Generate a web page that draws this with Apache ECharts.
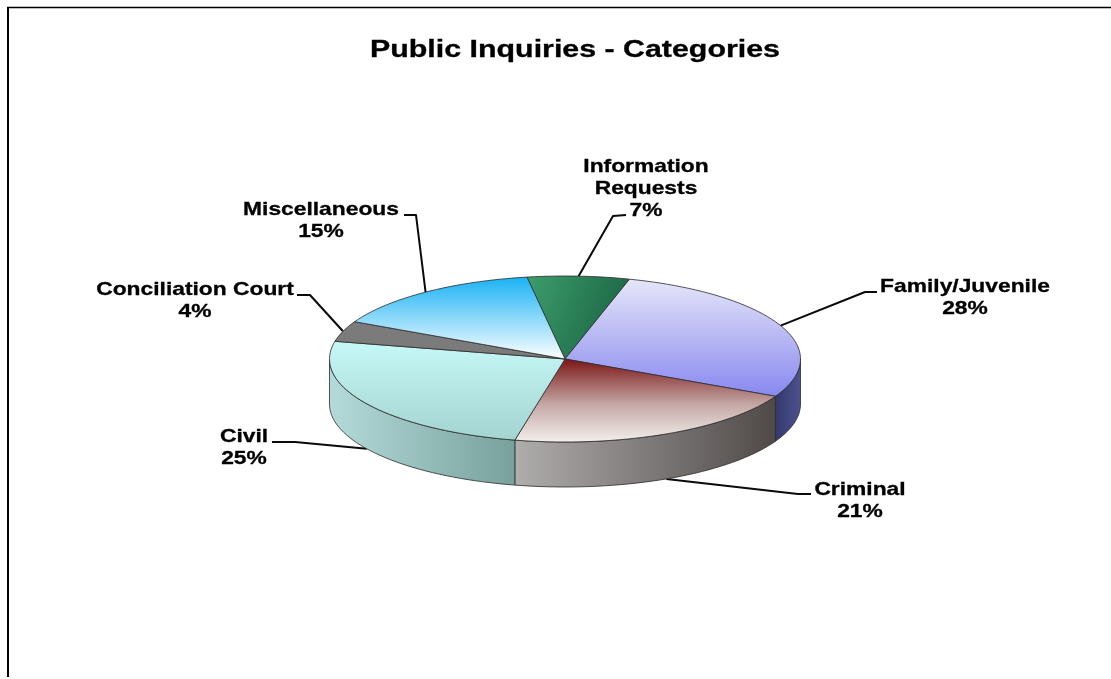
<!DOCTYPE html>
<html>
<head>
<meta charset="utf-8">
<style>html,body{margin:0;padding:0;background:#fff}#chart{width:1111px;height:679px}</style>
<script src="https://cdn.jsdelivr.net/npm/echarts@6/dist/echarts.min.js"></script>
</head>
<body>
<div id="chart"></div>
<script>
// Slices run clockwise from the top of the disc.
const chartTitle = 'Public Inquiries - Categories';
const categories = ['Information\nRequests', 'Family/Juvenile', 'Criminal', 'Civil', 'Conciliation Court', 'Miscellaneous'];
const shares = [7, 28, 21, 25, 4, 15];

// Disc geometry: tilted pie projected onto an ellipse, with a visible rim.
const disc = { cx: 565, cy: 359, rx: 235.5, ry: 83, depth: 45, startDeg: -9.3 };

const FONT = '"Liberation Sans", Arial, sans-serif';

const v = (top, bottom) => ({ type: 'linear', x: 0, y: 0, x2: 0, y2: 1,
  colorStops: [{ offset: 0, color: top }, { offset: 1, color: bottom }] });
const h = (left, right) => ({ type: 'linear', x: 0, y: 0, x2: 1, y2: 0,
  colorStops: [{ offset: 0, color: left }, { offset: 1, color: right }] });

const topFills = [
  { type: 'linear', x: 0, y: 0, x2: 1, y2: 0.5, colorStops: [{ offset: 0, color: '#3d9e6c' }, { offset: 1, color: '#1a6443' }] },
  v('#e6e6f9', '#8888f0'),
  { type: 'linear', x: 0, y: 0, x2: 0, y2: 1, colorStops: [{ offset: 0, color: '#7a1414' }, { offset: 0.55, color: '#c4a8a6' }, { offset: 1, color: '#f3f0ec' }] },
  v('#c6f8f7', '#a4d4d0'),
  v('#7b7b7b', '#7b7b7b'),
  v('#18b2f5', '#ffffff')
];
const wallFills = [null, h('#35386c', '#4c5190'), h('#b0adad', '#4f4a48'), h('#b4dbd9', '#78a09d'), null, null];

// Label block centres and the two inner points of each leader line.
const labelPlacement = [
  { x: 646, y: 189, knee: [613, 216], end: [626, 215] },
  { x: 965, y: 298, knee: [865, 292], end: [877, 292] },
  { x: 860, y: 501, knee: [798, 494], end: [811, 494] },
  { x: 244, y: 448, knee: [295, 442], end: [272, 442] },
  { x: 195, y: 301, knee: [310, 295], end: [297, 295] },
  { x: 321, y: 221, knee: [416, 215], end: [404, 215] }
];

const total = shares.reduce((a, b) => a + b, 0);
let running = disc.startDeg;
const spans = shares.map(s => {
  const from = running;
  running += s / total * 360;
  return { from, to: running, mid: (from + running) / 2 };
});

function rim(deg, drop) {
  const t = deg * Math.PI / 180;
  return [disc.cx + disc.rx * Math.sin(t), disc.cy - disc.ry * Math.cos(t) + drop];
}
function arc(from, to, drop) {
  const n = Math.max(2, Math.ceil(Math.abs(to - from) / 2));
  const pts = [];
  for (let i = 0; i <= n; i++) pts.push(rim(from + (to - from) * i / n, drop));
  return pts;
}
const outline = { stroke: '#2b2b2b', lineWidth: 0.8, lineJoin: 'round' };

function renderWall(params, api) {
  const s = spans[params.dataIndex];
  api.value(0);
  const from = Math.max(s.from, 90), to = Math.min(s.to, 270);
  if (from >= to) return { type: 'group', children: [] };
  const points = arc(from, to, 0).concat(arc(to, from, disc.depth));
  return { type: 'polygon', shape: { points }, style: Object.assign({ fill: wallFills[params.dataIndex] }, outline) };
}
function renderTop(params, api) {
  const s = spans[params.dataIndex];
  api.value(0);
  const points = [[disc.cx, disc.cy]].concat(arc(s.from, s.to, 0));
  return { type: 'polygon', shape: { points }, style: Object.assign({ fill: topFills[params.dataIndex] }, outline) };
}
function renderLeader(params, api) {
  const i = params.dataIndex, s = spans[i], p = labelPlacement[i];
  api.value(0);
  const frontFacing = Math.cos(s.mid * Math.PI / 180) < 0;
  const start = rim(s.mid, frontFacing ? disc.depth : 0);
  return { type: 'polyline', shape: { points: [start, p.knee, p.end] },
    style: { stroke: '#0a0a0a', lineWidth: 2, fill: 'none', lineJoin: 'round' } };
}
function renderLabel(params, api) {
  const i = params.dataIndex, p = labelPlacement[i];
  return { type: 'text', x: p.x, y: p.y, scaleX: 1.2, scaleY: 1,
    style: { text: categories[i] + '\n' + api.value(0) + '%', x: 0, y: 0, align: 'center', verticalAlign: 'middle',
      font: 'bold 19px ' + FONT, lineHeight: 22, fill: '#000', stroke: '#000', lineWidth: 0.3 } };
}

const customSeries = (name, z, renderItem) => ({
  type: 'custom', name, coordinateSystem: 'none', z, silent: true, data: shares, renderItem, animation: false, clip: false
});

const chart = echarts.init(document.getElementById('chart'), null, { renderer: 'canvas' });
chart.setOption({
  animation: false,
  backgroundColor: '#ffffff',
  tooltip: { show: false },
  graphic: [
    { type: 'line', shape: { x1: 7, y1: 7.5, x2: 1111, y2: 7.5 }, style: { stroke: '#000', lineWidth: 1.5 } },
    { type: 'line', shape: { x1: 8, y1: 7, x2: 8, y2: 677 }, style: { stroke: '#000', lineWidth: 2 } },
    { type: 'text', x: 575, y: 51, scaleX: 1.32, scaleY: 1,
      style: { text: chartTitle, x: 0, y: 0, align: 'center', verticalAlign: 'middle', font: 'bold 23px ' + FONT, fill: '#000', stroke: '#000', lineWidth: 0.3 } }
  ],
  series: [
    customSeries('leaders', 1, renderLeader),
    customSeries('walls', 2, renderWall),
    customSeries('tops', 3, renderTop),
    customSeries('labels', 4, renderLabel)
  ]
});
</script>
</body>
</html>
